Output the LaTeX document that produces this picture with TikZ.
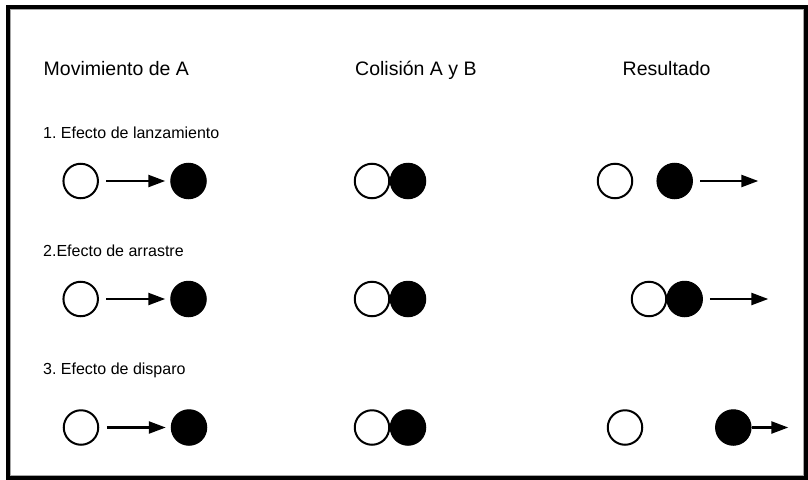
\documentclass[tikz,border=0pt]{standalone}
\usepackage{fontspec}
\setmainfont{Liberation Sans}
\usetikzlibrary{arrows.meta}
\frenchspacing
\begin{document}
\begin{tikzpicture}[x=1pt,y=-1pt,
  ballA/.style={circle,draw=black,line width=2pt,fill=white,minimum size=34.5pt,inner sep=0pt},
  ballB/.style={circle,draw=black,line width=1pt,fill=black,minimum size=35.5pt,inner sep=0pt},
  push/.style={line width=2.4pt,-{Triangle[length=17pt,width=12pt]}},
  header/.style={anchor=base west,inner sep=0pt,font=\fontsize{19.5}{22}\selectfont},
  caselabel/.style={anchor=base west,inner sep=0pt,font=\fontsize{16}{19}\selectfont}]
\useasboundingbox (0,0) rectangle (808,479);
% frame
\draw[line width=4pt,black] (8,7) rectangle (806,478);
\draw[line width=1pt,black!35] (10.5,9.5) rectangle (803.5,475.5);

% column headers
\node[header] (hA) at (43.5,75.5) {Movimiento de A};
\node[header] (hB) at (355,75.5) {Colisión A y B};
\node[header] (hC) at (622.5,75.5) {Resultado};

% case labels
\node[caselabel] (l1) at (43,138) {1. Efecto de lanzamiento};
\node[caselabel] (l2) at (43,256) {2.Efecto de arrastre};
\node[caselabel] (l3) at (43,374) {3. Efecto de disparo};

% case 1: launching
\node[ballA] (a1) at (80.7,181) {};
\node[ballB] (b1) at (188.5,181) {};
\draw[push,shorten <=7.5pt,shorten >=5pt] (a1) -- (b1);
\node[ballA] (ca1) at (372,181) {};
\node[ballB] (cb1) at (408,181) {};
\node[ballA] (ra1) at (615,181) {};
\node[ballB] (rb1) at (674.7,181) {};
\coordinate (re1) at (758.3,181);
\draw[push,shorten <=7.5pt] (rb1) -- (re1);

% case 2: entraining
\node[ballA] (a2) at (80.7,299) {};
\node[ballB] (b2) at (188.5,299) {};
\draw[push,shorten <=7.5pt,shorten >=5pt] (a2) -- (b2);
\node[ballA] (ca2) at (372,299) {};
\node[ballB] (cb2) at (408,299) {};
\node[ballA] (ra2) at (649,299) {};
\node[ballB] (rb2) at (684.7,299) {};
\coordinate (re2) at (768.3,299);
\draw[push,shorten <=7pt] (rb2) -- (re2);

% case 3: triggering
\node[ballA] (a3) at (81,427.5) {};
\node[ballB] (b3) at (189,427.5) {};
\draw[push,shorten <=7.5pt,shorten >=5pt] (a3) -- (b3);
\node[ballA] (ca3) at (372,427.5) {};
\node[ballB] (cb3) at (408,427.5) {};
\node[ballA] (ra3) at (625,427.5) {};
\node[ballB] (rb3) at (733.3,427.5) {};
\coordinate (re3) at (788.3,427.5);
\draw[push] (rb3) -- (re3);
\end{tikzpicture}
\end{document}
